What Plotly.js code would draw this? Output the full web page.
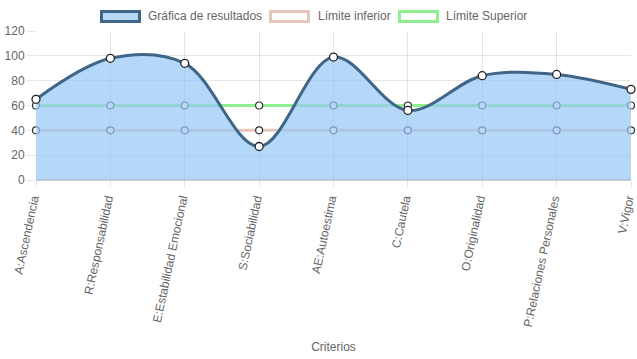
<!DOCTYPE html>
<html><head><meta charset="utf-8">
<script src="https://cdn.plot.ly/plotly-3.0.1.min.js"></script>
<style>html,body{margin:0;padding:0;background:#fff}#chart{width:637px;height:359px}</style>
</head><body><div id="chart"></div>
<script>
const categories = ["A:Ascendencia","R:Responsabilidad","E:Estabilidad Emocional","S:Sociabilidad","AE:Autoestima","C:Cautela","O:Originalidad","P:Relaciones Personales","V:Vigor"];
const resultados = [65, 98, 94, 27, 99, 56, 84, 85, 73];
const limiteInferior = [40, 40, 40, 40, 40, 40, 40, 40, 40];
const limiteSuperior = [60, 60, 60, 60, 60, 60, 60, 60, 60];
const seriesNames = ["Gráfica de resultados", "Límite inferior", "Límite Superior"];
const yTicks = [0, 20, 40, 60, 80, 100, 120];

const mainColor = "rgb(63,102,137)";
const lowColor = "rgb(229,198,188)";
const upColor = "rgb(144,238,144)";
const fillColor = "rgba(151,200,245,0.7)";
const markerEdge = "#333";
const sans = "Liberation Sans, Arial, Helvetica, sans-serif";

const traces = [
  {x: categories, y: limiteInferior, name: seriesNames[1], type: "scatter", mode: "lines+markers",
   line: {color: lowColor, width: 3}, marker: {size: 7, color: "#fff", line: {color: markerEdge, width: 1.2}},
   showlegend: false, cliponaxis: false, hoverinfo: "skip"},
  {x: categories, y: limiteSuperior, name: seriesNames[2], type: "scatter", mode: "lines+markers",
   line: {color: upColor, width: 3}, marker: {size: 7, color: "#fff", line: {color: markerEdge, width: 1.2}},
   showlegend: false, cliponaxis: false, hoverinfo: "skip"},
  {x: categories, y: resultados, name: seriesNames[0], type: "scatter", mode: "lines+markers",
   fill: "tozeroy", fillcolor: fillColor,
   line: {color: mainColor, width: 3, shape: "spline", smoothing: 1},
   marker: {size: 8, color: "#fff", line: {color: "#222", width: 1.3}},
   showlegend: false, cliponaxis: false, hoverinfo: "skip"}
];

// Chart.js-style legend drawn in paper coordinates
const L = 36, R = 631, T = 31, B = 180;
const px = v => (v - L) / (R - L);
const py = v => (B - v) / (B - T);
const legendItems = [
  {x0: 101.5, x1: 139.5, fill: "rgb(184,217,245)", line: mainColor, tx: 146},
  {x0: 270.5, x1: 308.5, fill: "#fff", line: lowColor, tx: 316},
  {x0: 399.5, x1: 437.5, fill: "#fff", line: upColor, tx: 444}
];
const shapes = legendItems.map(it => ({type: "rect", xref: "paper", yref: "paper",
  x0: px(it.x0), x1: px(it.x1), y0: py(21.5), y1: py(11.5), fillcolor: it.fill,
  line: {color: it.line, width: 3}, layer: "above"}));
const annotations = legendItems.map((it, i) => ({xref: "paper", yref: "paper",
  x: px(it.tx), y: py(16), xanchor: "left", yanchor: "middle", showarrow: false,
  text: seriesNames[i], font: {family: sans, size: 12, color: "#666"}}));

const layout = {
  width: 637, height: 359,
  margin: {l: L, r: 637 - R, t: T, b: 359 - B},
  paper_bgcolor: "#fff", plot_bgcolor: "#fff",
  showlegend: false,
  xaxis: {type: "category", range: [0, categories.length - 1], tickangle: -78,
    showgrid: true, gridcolor: "rgba(0,0,0,0.1)", gridwidth: 1,
    ticks: "outside", ticklen: 6, tickcolor: "rgba(0,0,0,0.1)",
    ticklabelshift: -3,
    tickfont: {family: sans, size: 12, color: "#666"},
    showline: false, zeroline: false, automargin: false,
    title: {text: "Criterios", font: {family: sans, size: 12, color: "#666"}, standoff: 15}},
  yaxis: {range: [0, 120], tickvals: yTicks, ticktext: yTicks.map(String),
    showgrid: true, gridcolor: "rgba(0,0,0,0.1)", gridwidth: 1,
    ticks: "outside", ticklen: 8, tickcolor: "rgba(0,0,0,0.1)",
    tickfont: {family: sans, size: 12, color: "#666"},
    zeroline: true, zerolinecolor: "rgba(0,0,0,0.2)", zerolinewidth: 2,
    showline: false, automargin: false},
  shapes: shapes,
  annotations: annotations
};
Plotly.newPlot("chart", traces, layout, {displayModeBar: false, staticPlot: true});
</script></body></html>
